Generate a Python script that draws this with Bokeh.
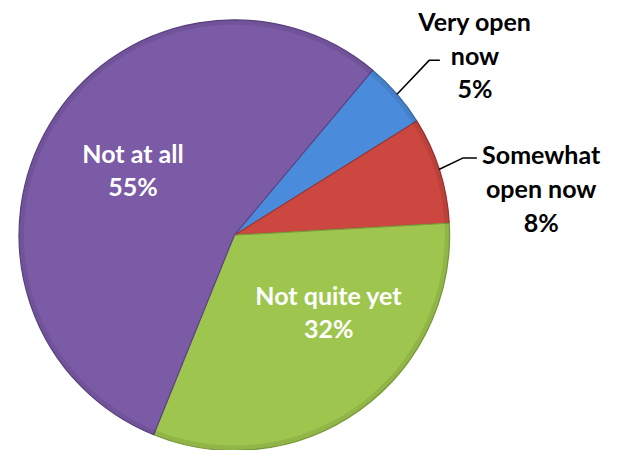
import math
from bokeh.plotting import figure
from bokeh.models import Range1d, ColumnDataSource
from bokeh.core.properties import value
from bokeh.embed import file_html
from bokeh.resources import INLINE

# ---- data ----
categories = ["Very open now", "Somewhat open now", "Not quite yet", "Not at all"]
percents = [5, 8, 32, 55]
label_lines = [["Very open", "now", "5%"],
               ["Somewhat", "open now", "8%"],
               ["Not quite yet", "32%"],
               ["Not at all", "55%"]]

# ---- style ----
colors = ["#4A8CDB", "#CC4740", "#9EC64E", "#7B5BA6"]
edge_colors = ["#3A6FAE", "#9C3430", "#7C9C3A", "#5C4385"]
start_offset = 40.0  # degrees clockwise from 12 o'clock
W, H = 604, 450
VW, VH = 620, 466  # layout coordinate space (pixels, y downwards)

def fy(y):
    return VH - y

cx, cy, R = 240, fy(243), 221

p = figure(width=W, height=H, output_backend="svg", toolbar_location=None,
           x_range=Range1d(0, VW), y_range=Range1d(0, VH),
           min_border=0)
p.axis.visible = False
p.grid.visible = False
p.outline_line_color = None
p.background_fill_color = "white"

total = sum(percents)
starts, ends = [], []
cum = 0.0
for v in percents:
    a0 = start_offset + 360.0 * cum / total
    a1 = a0 + 360.0 * v / total
    cum += v
    starts.append(math.radians(90 - a1))
    ends.append(math.radians(90 - a0))

src = ColumnDataSource(dict(start=starts, end=ends, color=colors, edge=edge_colors))
p.wedge(x=cx, y=cy, radius=R, start_angle="start", end_angle="end",
        fill_color="color", line_color="edge", line_width=1.2, source=src)
# subtle darker rim
p.annular_wedge(x=cx, y=cy, inner_radius=R - 5, outer_radius=R, start_angle="start",
                end_angle="end", fill_color="black", fill_alpha=0.08, line_color=None,
                source=src)

font = value("Lato")
fs = "25px"
line_gap = 35

# label anchor positions (layout px, centre of label block)
label_pos = [(487, 56), (555, 194), (337, 322), (136, 175)]
label_color = ["black", "black", "white", "white"]

for lines, (lx, ly), col in zip(label_lines, label_pos, label_color):
    n = len(lines)
    ys = [ly + (i - (n - 1) / 2) * line_gap for i in range(n)]
    p.text(x=[lx] * n, y=[fy(y) for y in ys], text=lines, text_font=font,
           text_font_size=fs, text_font_style="bold", text_color=col,
           text_align="center", text_baseline="middle")

# leader lines for outside labels
p.line(x=[407, 440, 451], y=[fy(97), fy(62), fy(62)], line_color="black", line_width=1.5)
p.line(x=[450, 475, 489], y=[fy(175), fy(163), fy(163)], line_color="black", line_width=1.5)

open("out.html", "w").write(file_html(p, INLINE))
